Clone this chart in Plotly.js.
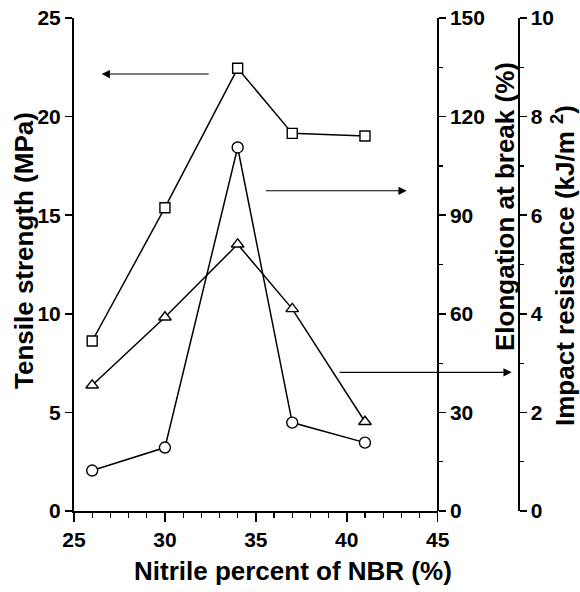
<!DOCTYPE html>
<html>
<head>
<meta charset="utf-8">
<script src="https://cdn.plot.ly/plotly-3.0.1.min.js"></script>
<style>html,body{margin:0;padding:0;background:#fff;}#chart{width:580px;height:592px;}</style>
</head>
<body>
<div id="chart"></div>
<script>
// Data
var nitrile = [26, 30, 34, 37, 41];
var tensileStrength = [8.62, 15.38, 22.45, 19.15, 19.02];   // MPa (left axis)
var elongationAtBreak = [12.3, 19.3, 110.6, 26.9, 20.8];    // % (middle right axis)
var impactResistance = [2.55, 3.93, 5.41, 4.10, 1.81];      // kJ/m2 (far right axis)

var xTickVals = [25, 30, 35, 40, 45];
var yTickVals = [0, 5, 10, 15, 20, 25];
var y2TickVals = [0, 30, 60, 90, 120, 150];
var y3TickVals = [0, 2, 4, 6, 8, 10];

var FONT = 'Liberation Sans, Arial, Helvetica, sans-serif';
var tickFont = {family: FONT, size: 21, color: '#000', weight: 'bold'};
var titleFont = {family: FONT, size: 26, color: '#000', weight: 'bold'};

function series(y, yaxis, symbol, size) {
  return {
    x: nitrile, y: y, yaxis: yaxis, type: 'scatter', mode: 'lines+markers',
    line: {color: '#000', width: 1.5},
    marker: {symbol: symbol, size: size, color: '#fff', line: {color: '#000', width: 1.4}},
    cliponaxis: false, showlegend: false, hoverinfo: 'skip'
  };
}

var traces = [
  series(tensileStrength, 'y', 'square', 10),
  series(elongationAtBreak, 'y2', 'circle', 11),
  series(impactResistance, 'y3', 'triangle-up', 11)
];

var L = 74, W = 580;
var xEnd = (437.7 - L) / (W - L);
var y3Pos = (518.5 - L) / (W - L);

function commonAxis() {
  return {
    showgrid: false, zeroline: false, showline: true, linecolor: '#000', linewidth: 2,
    ticks: 'outside', tickcolor: '#000', tickwidth: 1.5, tickfont: tickFont
  };
}

var xaxis = Object.assign(commonAxis(), {
  range: [25, 45], domain: [0, xEnd], tickvals: xTickVals, ticklen: 9,
  minor: {dtick: 1, ticks: 'outside', ticklen: 5, tickcolor: '#000', tickwidth: 1.2, showgrid: false}
});
var yaxis = Object.assign(commonAxis(), {
  range: [0, 25], tickvals: yTickVals, ticklen: 7
});
var yaxis2 = Object.assign(commonAxis(), {
  range: [0, 150], tickvals: y2TickVals, ticklen: 7, overlaying: 'y', side: 'right',
  anchor: 'free', position: xEnd,
  minor: {dtick: 15, ticks: 'outside', ticklen: 4, tickcolor: '#000', tickwidth: 1.2, showgrid: false}
});
var yaxis3 = Object.assign(commonAxis(), {
  range: [0, 10], tickvals: y3TickVals, ticklen: 7, overlaying: 'y', side: 'right',
  anchor: 'free', position: y3Pos,
  minor: {dtick: 1, ticks: 'outside', ticklen: 4, tickcolor: '#000', tickwidth: 1.2, showgrid: false}
});

function arrow(xp, y, ax) {
  return {
    xref: 'paper', yref: 'y', x: xp, y: y, ax: ax, ay: 0, text: ' ',
    showarrow: true, arrowhead: 2, arrowsize: 1.5, arrowwidth: 1.1, arrowcolor: '#000',
    standoff: 0, startstandoff: 0
  };
}

var annotations = [
  {xref: 'paper', yref: 'paper', x: (24 - L) / (W - L), y: (511 - 251) / 493,
   text: 'Tensile strength (MPa)', textangle: -90, showarrow: false,
   xanchor: 'center', yanchor: 'middle', font: titleFont},
  {xref: 'paper', yref: 'paper', x: (293 - L) / (W - L), y: (511 - 571) / 493,
   text: 'Nitrile percent of NBR (%)', showarrow: false,
   xanchor: 'center', yanchor: 'middle', font: titleFont},
  {xref: 'paper', yref: 'paper', x: (505 - L) / (W - L), y: (511 - 207) / 493,
   text: 'Elongation at break (%)', textangle: -90, showarrow: false,
   xanchor: 'center', yanchor: 'middle', font: titleFont},
  {xref: 'paper', yref: 'paper', x: (563 - L) / (W - L), y: (511 - 266) / 493,
   text: 'Impact resistance (kJ/m <sup>2</sup>)', textangle: -90, showarrow: false,
   xanchor: 'center', yanchor: 'middle', font: titleFont},
  arrow((101.7 - L) / (W - L), 22.16, 110),
  arrow((406.7 - L) / (W - L), 16.24, -143.7),
  arrow((511.7 - L) / (W - L), 7.03, -175)
];

var layout = {
  width: 580, height: 592,
  margin: {l: L, r: 0, t: 18, b: 81, pad: 0},
  paper_bgcolor: '#fff', plot_bgcolor: '#fff',
  xaxis: xaxis, yaxis: yaxis, yaxis2: yaxis2, yaxis3: yaxis3,
  annotations: annotations, showlegend: false
};

Plotly.newPlot('chart', traces, layout, {displayModeBar: false, staticPlot: true});
</script>
</body>
</html>
